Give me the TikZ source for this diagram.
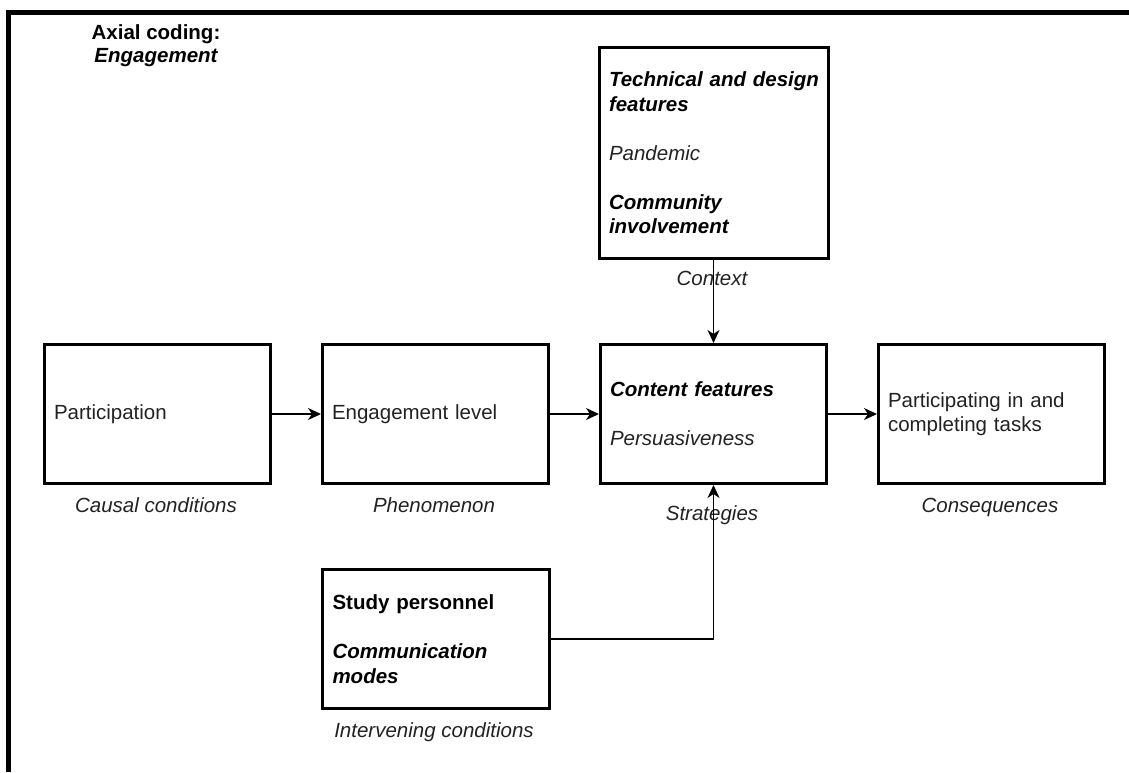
\documentclass[tikz,border=0pt]{standalone}
\usepackage{fontspec}
\setmainfont{Liberation Sans}
\usetikzlibrary{arrows.meta}
\definecolor{txt}{HTML}{222222}
\newcommand{\fsz}{\fontsize{20.5}{24.5}\selectfont}
\begin{document}
\begin{tikzpicture}[x=1pt,y=-1pt,
  box/.style={draw=black, line width=3pt, anchor=north west, minimum width=226pt, minimum height=139pt,
    inner xsep=9.5pt, inner ysep=0pt, text width=207pt, align=left, font=\fsz, text=txt},
  lab/.style={anchor=base, font=\fsz\itshape, text=txt, inner sep=0pt},
  conn/.style={line width=1.5pt, -{Stealth[length=13pt,width=12pt,inset=4pt]}},
  frame/.style={line width=5pt, black}]
\useasboundingbox (0,0) rectangle (1129,772);
% frame
\coordinate (fbl) at (8.5,772);
\coordinate (ftl) at (8.5,12.5);
\coordinate (ftr) at (1129,12.5);
\draw[frame] (fbl) -- (ftl) -- (ftr);
% title
\node[anchor=base, font=\fsz\bfseries, text=black, inner sep=0pt] (title1) at (156,39) {Axial coding:};
\node[anchor=base, font=\fsz\bfseries\itshape, text=black, inner sep=0pt] (title2) at (156,62) {Engagement};
% boxes
\node[box] (part) at (43,343) {Participation};
\node[box] (eng) at (321,343) {Engagement level};
\node[box] (cont) at (599,343) {\textcolor{black}{\bfseries\itshape Content features}\\[24.5pt]\itshape Persuasiveness};
\node[box] (cons) at (877,343) {Participating in and completing tasks};
\node[box, minimum width=229pt, minimum height=211pt, text width=210pt] (tech) at (598,46)
  {\textcolor{black}{\bfseries\itshape Technical and design features}\\[24.5pt]\itshape Pandemic\\[24.5pt]\textcolor{black}{\bfseries\itshape Community\\ involvement}};
\node[box, minimum width=227pt] (study) at (321,568)
  {\textcolor{black}{\bfseries Study personnel}\\[24.5pt]\textcolor{black}{\bfseries\itshape Communication\\ modes}};
% labels
\node[lab] (lcause) at (156,512) {Causal conditions};
\node[lab] (lphen) at (434,512) {Phenomenon};
\node[lab] (lstrat) at (712,520) {Strategies};
\node[lab] (lcons) at (990,512) {Consequences};
\node[lab] (linter) at (434,737) {Intervening conditions};
\node[lab] (lctx) at (712,285) {Context};
% connectors
\draw[conn] (part.east) -- (eng.west);
\draw[conn] (eng.east) -- (cont.west);
\draw[conn] (cont.east) -- (cons.west);
\draw[conn] (tech.south -| cont.north) -- (cont.north);
\draw[conn] (study.east) -| (cont.south);
\end{tikzpicture}
\end{document}
